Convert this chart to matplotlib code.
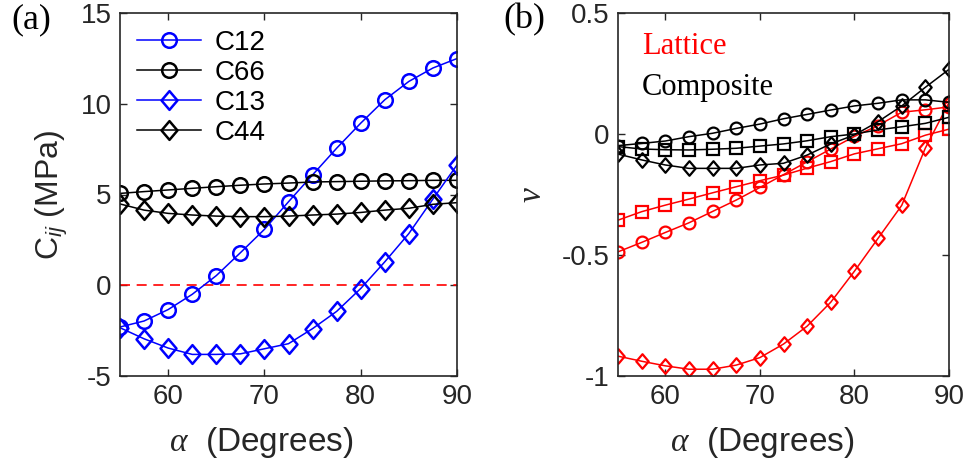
import numpy as np
import matplotlib
matplotlib.use("Agg")
import matplotlib.pyplot as plt
from matplotlib.path import Path

plt.rcParams["font.family"] = ["Liberation Sans", "DejaVu Sans"]
plt.rcParams["mathtext.fontset"] = "custom"
plt.rcParams["mathtext.it"] = "Liberation Serif:italic"
plt.rcParams["mathtext.rm"] = "Liberation Serif"
plt.rcParams["mathtext.sf"] = "Liberation Sans:italic"
plt.rcParams["axes.unicode_minus"] = False

alpha = [55, 57.5, 60, 62.5, 65, 67.5, 70, 72.5, 75, 77.5, 80, 82.5, 85, 87.5, 90]

# panel (a): stiffness components (MPa)
c12 = [-2.30, -1.97, -1.34, -0.50, 0.53, 1.79, 3.08, 4.60, 6.08, 7.55, 8.93, 10.22, 11.23, 11.97, 12.49]
c66 = [5.06, 5.16, 5.25, 5.34, 5.43, 5.51, 5.58, 5.63, 5.69, 5.71, 5.73, 5.75, 5.76, 5.78, 5.78]
c13 = [-2.34, -2.95, -3.46, -3.81, -3.81, -3.78, -3.50, -3.22, -2.39, -1.44, -0.18, 1.29, 2.85, 4.75, 6.63]
c44 = [4.48, 4.14, 3.96, 3.87, 3.81, 3.78, 3.78, 3.81, 3.87, 3.92, 4.01, 4.14, 4.24, 4.46, 4.55]

# panel (b): Poisson's ratios
lat_circ = [-0.487, -0.448, -0.407, -0.367, -0.320, -0.273, -0.221, -0.168, -0.115, -0.062, -0.010, 0.035, 0.090, 0.100, 0.112]
lat_sq = [-0.356, -0.321, -0.294, -0.269, -0.243, -0.218, -0.193, -0.170, -0.141, -0.114, -0.082, -0.061, -0.040, -0.005, 0.020]
lat_dia = [-0.918, -0.939, -0.958, -0.972, -0.972, -0.955, -0.924, -0.868, -0.794, -0.695, -0.567, -0.431, -0.295, -0.058, 0.130]
com_circ = [-0.048, -0.039, -0.029, -0.011, 0.003, 0.023, 0.041, 0.063, 0.081, 0.099, 0.116, 0.127, 0.141, 0.141, 0.131]
com_sq = [-0.052, -0.062, -0.065, -0.066, -0.063, -0.059, -0.050, -0.041, -0.028, -0.011, 0.000, 0.017, 0.030, 0.044, 0.069]
com_dia = [-0.083, -0.107, -0.128, -0.142, -0.142, -0.142, -0.128, -0.121, -0.087, -0.041, -0.004, 0.051, 0.116, 0.193, 0.267]

# matlab-style diamond, a bit taller than wide
dia = Path([(0, 1), (0.85, 0), (0, -1), (-0.85, 0), (0, 1)],
           [Path.MOVETO, Path.LINETO, Path.LINETO, Path.LINETO, Path.CLOSEPOLY])

fig = plt.figure(figsize=(9.68, 4.71), dpi=100)
W, H = 968, 471
ax1 = fig.add_axes([120 / W, 1 - 376 / H, (457 - 120) / W, (376 - 13) / H])
ax2 = fig.add_axes([618 / W, 1 - 376 / H, (949 - 618) / W, (376 - 13) / H])

tick_col = "#262626"
for ax in (ax1, ax2):
    ax.tick_params(direction="in", top=True, right=True, length=5, width=1,
                   labelsize=20, colors=tick_col, pad=6)
    for s in ax.spines.values():
        s.set_color(tick_col)
        s.set_linewidth(1.2)
    ax.set_xlim(55, 90)
    ax.set_xticks([60, 70, 80, 90])
    ax.set_xlabel(r"$\alpha$  (Degrees)", fontsize=24, color=tick_col)
ax1.xaxis.set_label_coords(0.42, -0.135)
ax2.xaxis.set_label_coords(0.435, -0.135)

blue = "#0000ff"
kw_a = dict(markerfacecolor="none", markeredgewidth=1.8, linewidth=1.1)
ax1.axhline(0, color="red", linestyle=(0, (6, 4)), linewidth=1.2)
ax1.plot(alpha, c12, "o-", color=blue, label="C12", markersize=10.5, **kw_a)
ax1.plot(alpha, c66, "o-", color="black", label="C66", markersize=10.5, **kw_a)
ax1.plot(alpha, c13, "-", marker=dia, color=blue, label="C13", markersize=13.5, **kw_a)
ax1.plot(alpha, c44, "-", marker=dia, color="black", label="C44", markersize=13.5, **kw_a)
ax1.set_ylim(-5, 15)
ax1.set_yticks([-5, 0, 5, 10, 15])
ax1.set_ylabel(r"C$_{\mathsf{ij}}$ (MPa)", fontsize=23, color=tick_col, labelpad=8)
ax1.legend(loc="upper left", frameon=False, fontsize=20, handlelength=2.3,
           handletextpad=0.5, labelspacing=0.15, borderaxespad=0.2,
           bbox_to_anchor=(0.0, 1.0))

kw_b = dict(markerfacecolor="none", markeredgewidth=1.6, linewidth=1.1)
ax2.plot(alpha, lat_dia, "-", marker=dia, color="red", markersize=10.5, **kw_b)
ax2.plot(alpha, lat_circ, "o-", color="red", markersize=8.5, **kw_b)
ax2.plot(alpha, lat_sq, "s-", color="red", markersize=8.5, **kw_b)
ax2.plot(alpha, com_circ, "o-", color="black", markersize=8.5, **kw_b)
ax2.plot(alpha, com_sq, "s-", color="black", markersize=8.5, **kw_b)
ax2.plot(alpha, com_dia, "-", marker=dia, color="black", markersize=10.5, **kw_b)
ax2.set_ylim(-1, 0.5)
ax2.set_yticks([-1, -0.5, 0, 0.5])
ax2.set_yticklabels(["-1", "-0.5", "0", "0.5"])
ax2.set_ylabel(r"$\nu$", fontsize=24, color=tick_col, labelpad=10)

ax2.text(0.072, 0.887, "Lattice", transform=ax2.transAxes, color="red",
         fontsize=22, family="Liberation Serif", va="baseline")
ax2.text(0.072, 0.774, "Composite", transform=ax2.transAxes, color="black",
         fontsize=22, family="Liberation Serif", va="baseline")

fig.text(11 / W, 1 - 20 / H, "(a)", fontsize=26, family="Liberation Serif", va="center")
fig.text(503 / W, 1 - 20 / H, "(b)", fontsize=26, family="Liberation Serif", va="center")

fig.savefig("out.png", dpi=100)
